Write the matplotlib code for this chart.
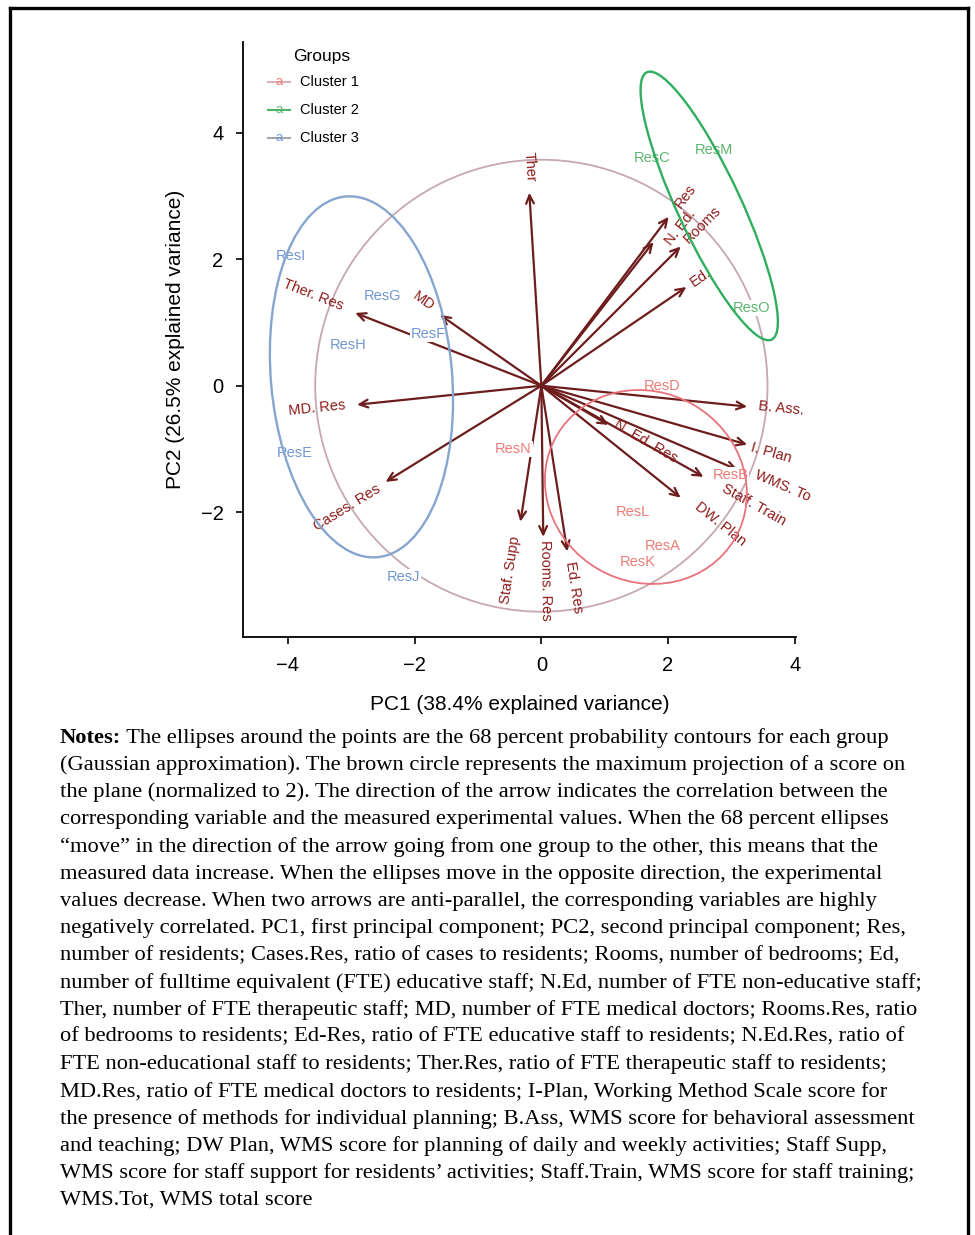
import numpy as np
import matplotlib
matplotlib.use("Agg")
import matplotlib.pyplot as plt
from matplotlib.patches import Ellipse, Circle
from matplotlib.lines import Line2D

# ---- data ----
var_names = ["Ther", "Res", "N. Ed.", "Rooms", "Ed.", "MD", "Ther. Res", "MD. Res",
             "Cases. Res", "Staf. Supp", "Rooms. Res", "Ed. Res", "B. Ass.", "I. Plan",
             "WMS. To", "N. Ed. Res", "Staff. Train", "DW. Plan"]
arrow_x = [-0.19, 2.01, 1.77, 2.20, 2.29, -1.60, -2.94, -2.91, -2.46, -0.33, 0.03, 0.41,
           3.25, 3.25, 3.10, 1.06, 2.56, 2.20]
arrow_y = [3.05, 2.67, 2.27, 2.20, 1.56, 1.12, 1.15, -0.30, -1.52, -2.15, -2.39, -2.62,
           -0.33, -0.93, -1.33, -0.62, -1.44, -1.77]
label_x = [-0.19, 2.27, 2.20, 2.54, 2.51, -1.86, -3.60, -3.54, -3.06, -0.49, 0.06, 0.51,
           3.78, 3.62, 3.81, 1.64, 3.35, 2.83]
label_y = [3.46, 3.00, 2.50, 2.54, 1.71, 1.33, 1.44, -0.35, -1.93, -2.91, -3.08, -3.19,
           -0.36, -1.06, -1.58, -0.88, -1.88, -2.18]

groups = ["Cluster 1", "Cluster 2", "Cluster 3"]
res_names = [["ResD", "ResN", "ResB", "ResL", "ResA", "ResK"],
             ["ResC", "ResM", "ResO"],
             ["ResI", "ResG", "ResF", "ResH", "ResE", "ResJ"]]
res_x = [[1.91, -0.44, 2.99, 1.44, 1.91, 1.52],
         [1.74, 2.72, 3.32],
         [-3.95, -2.50, -1.79, -3.05, -3.89, -2.18]]
res_y = [[0.00, -1.00, -1.41, -1.99, -2.53, -2.78],
         [3.60, 3.73, 1.23],
         [2.05, 1.41, 0.82, 0.65, -1.07, -3.02]]

# 68% ellipses: centre, full width, full height, angle
ell_cx = [1.65, 2.65, -2.84]
ell_cy = [-1.60, 2.84, 0.14]
ell_w = [3.25, 4.66, 5.72]
ell_h = [3.00, 1.00, 2.86]
ell_ang = [-30, 115, 95]

circle_r = 3.57

notes = [
    "The ellipses around the points are the 68 percent probability contours for each group",
    "(Gaussian approximation). The brown circle represents the maximum projection of a score on",
    "the plane (normalized to 2). The direction of the arrow indicates the correlation between the",
    "corresponding variable and the measured experimental values. When the 68 percent ellipses",
    "\u201cmove\u201d in the direction of the arrow going from one group to the other, this means that the",
    "measured data increase. When the ellipses move in the opposite direction, the experimental",
    "values decrease. When two arrows are anti-parallel, the corresponding variables are highly",
    "negatively correlated. PC1, first principal component; PC2, second principal component; Res,",
    "number of residents; Cases.Res, ratio of cases to residents; Rooms, number of bedrooms; Ed,",
    "number of fulltime equivalent (FTE) educative staff; N.Ed, number of FTE non-educative staff;",
    "Ther, number of FTE therapeutic staff; MD, number of FTE medical doctors; Rooms.Res, ratio",
    "of bedrooms to residents; Ed-Res, ratio of FTE educative staff to residents; N.Ed.Res, ratio of",
    "FTE non-educational staff to residents; Ther.Res, ratio of FTE therapeutic staff to residents;",
    "MD.Res, ratio of FTE medical doctors to residents; I-Plan, Working Method Scale score for",
    "the presence of methods for individual planning; B.Ass, WMS score for behavioral assessment",
    "and teaching; DW Plan, WMS score for planning of daily and weekly activities; Staff Supp,",
    "WMS score for staff support for residents\u2019 activities; Staff.Train, WMS score for staff training;",
    "WMS.Tot, WMS total score",
]

# ---- style ----
text_col = ["#f07b76", "#5cb46e", "#7196d4"]
ell_col = ["#e8727c", "#2fae5e", "#86a5cf"]
key_line = ["#dcb0b8", "#4cb46a", "#a3a6b0"]
var_col = "#8e1b1b"
arr_col = "#6e1d1d"

plt.rcParams['font.family'] = ['Liberation Sans', 'DejaVu Sans']

W, H = 975, 1235
fig = plt.figure(figsize=(W / 100, H / 100), dpi=100)
ax = fig.add_axes([243 / W, 1 - 637 / H, 553 / W, 595 / H])
ax.set_xlim(-4.71, 4.02)
ax.set_ylim(-3.97, 5.43)

# circle
ax.add_patch(Circle((0, 0), circle_r, fill=False, ec="#c6a8ae", lw=1.3, zorder=1))

# arrows
for x, y in zip(arrow_x, arrow_y):
    ax.annotate("", xy=(x, y), xytext=(0, 0),
                arrowprops=dict(arrowstyle="->,head_length=0.6,head_width=0.28",
                                color=arr_col, lw=1.6, shrinkA=0, shrinkB=0),
                zorder=2)

# variable labels, rotated along arrow
for name, x, y, ax_, ay_ in zip(var_names, label_x, label_y, arrow_x, arrow_y):
    rot = np.degrees(np.arctan(ay_ / ax_))
    ax.text(x, y, name, color=var_col, fontsize=10.5, rotation=rot,
            rotation_mode="anchor", ha="center", va="center", zorder=3)

# observation labels
for g in range(3):
    for n, x, y in zip(res_names[g], res_x[g], res_y[g]):
        ax.text(x, y, n, color=text_col[g], fontsize=10.5, ha="center", va="center",
                zorder=4, bbox=dict(fc="white", ec="none", pad=0.5))

# ellipses
for g in range(3):
    lw = 1.7 if g > 0 else 1.3
    ax.add_patch(Ellipse((ell_cx[g], ell_cy[g]), ell_w[g], ell_h[g], angle=ell_ang[g],
                         fill=False, ec=ell_col[g], lw=lw, zorder=5))

# legend drawn by hand
ax.text(0.143, 0.976, "Groups", transform=ax.transAxes, fontsize=12.5,
        ha="center", va="center")
for g, yy in enumerate([0.933, 0.886, 0.839]):
    ax.plot([0.045, 0.085], [yy, yy], transform=ax.transAxes, color=key_line[g], lw=1.5)
    ax.text(0.065, yy, "a", transform=ax.transAxes, color=text_col[g], fontsize=9.5,
            ha="center", va="center")
    ax.text(0.103, yy, groups[g], transform=ax.transAxes, fontsize=10.5,
            ha="left", va="center")

# axes
for s in ["top", "right"]:
    ax.spines[s].set_visible(False)
for s in ["left", "bottom"]:
    ax.spines[s].set_linewidth(1.3)
ax.set_xticks([-4, -2, 0, 2, 4])
ax.set_yticks([-2, 0, 2, 4])
ax.tick_params(direction="out", length=5, width=1.2, labelsize=14.5, pad=9)
ax.set_xlabel("PC1 (38.4% explained variance)", fontsize=15, labelpad=14)
ax.set_ylabel("PC2 (26.5% explained variance)", fontsize=15, labelpad=11)

# frame round the figure (open at the bottom)
for xs, ys in [([10, 10], [8, H]), ([10, 968], [8, 8]), ([968, 968], [8, H])]:
    fig.add_artist(Line2D([xs[0] / W, xs[1] / W], [1 - ys[0] / H, 1 - ys[1] / H],
                          color="black", lw=2.4))

# notes
serif = ['Liberation Serif', 'DejaVu Serif']
fs = 16.2
y0, dy = 738, 27.2
t = fig.text(60 / W, 1 - y0 / H, "Notes:", fontsize=fs, family=serif, weight="bold",
             va="center", ha="left")
ax.annotate(" " + notes[0], xy=(1, 0.5), xycoords=t, fontsize=fs, family=serif,
            va="center", ha="left", annotation_clip=False)
for i, line in enumerate(notes[1:], start=1):
    fig.text(60 / W, 1 - (y0 + i * dy) / H, line, fontsize=fs, family=serif,
             va="center", ha="left")

fig.savefig("out.png", dpi=100)
